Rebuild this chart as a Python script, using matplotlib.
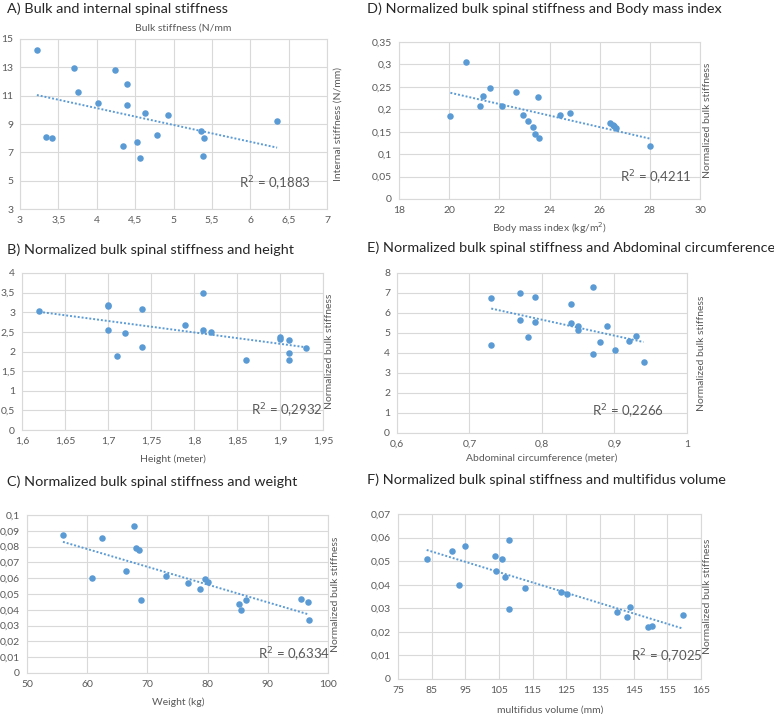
import matplotlib.pyplot as plt
import numpy as np
from matplotlib.ticker import FuncFormatter

plt.rcParams['font.family'] = ['Lato', 'DejaVu Sans']

# A) bulk vs internal stiffness
bulk_a = [3.22, 3.70, 4.24, 4.40, 3.76, 4.01, 4.39, 4.63, 4.93, 6.35,
          3.34, 3.42, 5.36, 5.40, 4.78, 4.34, 4.52, 4.57, 5.39]
internal_a = [14.25, 12.93, 12.81, 11.82, 11.28, 10.48, 10.36, 9.78, 9.66, 9.19,
              8.08, 7.99, 8.51, 7.99, 8.22, 7.47, 7.75, 6.60, 6.72]

# D) BMI
bmi_d = [20.67, 20.05, 21.63, 21.34, 21.23, 22.09, 22.66, 23.53, 22.96, 23.13,
         23.36, 23.42, 23.58, 24.41, 24.82, 26.43, 26.52, 26.58, 26.64, 27.99]
stiff_d = [0.306, 0.185, 0.247, 0.230, 0.207, 0.207, 0.238, 0.228, 0.188, 0.174,
           0.161, 0.146, 0.137, 0.188, 0.192, 0.170, 0.166, 0.162, 0.159, 0.119]

# B) height
height_b = [1.62, 1.70, 1.70, 1.70, 1.71, 1.72, 1.74, 1.74, 1.79, 1.81,
            1.81, 1.82, 1.86, 1.90, 1.90, 1.91, 1.91, 1.91, 1.93]
stiff_b = [3.04, 3.15, 3.18, 2.56, 1.89, 2.46, 3.08, 2.12, 2.67, 3.50,
           2.56, 2.50, 1.79, 2.37, 2.31, 2.29, 1.97, 1.79, 2.08]

# E) abdominal circumference
abdo_e = [0.73, 0.73, 0.77, 0.77, 0.79, 0.79, 0.78, 0.84, 0.84, 0.85,
          0.85, 0.87, 0.87, 0.88, 0.89, 0.90, 0.92, 0.93, 0.94]
stiff_e = [6.76, 4.40, 7.01, 5.64, 6.80, 5.56, 4.79, 6.43, 5.52, 5.36,
           5.15, 7.30, 3.95, 4.57, 5.36, 4.15, 4.60, 4.85, 3.53]

# C) weight
weight_c = [55.97, 60.77, 62.54, 66.41, 67.79, 68.12, 68.62, 69.0, 73.15, 76.74,
            78.78, 79.50, 80.06, 85.19, 85.47, 86.30, 95.47, 96.69, 96.80]
stiff_c = [0.0874, 0.0604, 0.0853, 0.0647, 0.0932, 0.0791, 0.0781, 0.0464, 0.0617, 0.0570,
           0.0532, 0.0596, 0.0574, 0.0436, 0.0396, 0.0460, 0.0470, 0.0449, 0.0338]

# F) multifidus volume
volume_f = [83.52, 91.15, 93.24, 94.92, 103.84, 104.14, 106.02, 106.71, 108.10, 108.10,
            112.66, 123.37, 125.05, 140.12, 143.09, 143.88, 149.34, 150.33, 159.64]
stiff_f = [0.0509, 0.0544, 0.0400, 0.0565, 0.0520, 0.0459, 0.0509, 0.0431, 0.0591, 0.0298,
           0.0385, 0.0368, 0.0360, 0.0285, 0.0261, 0.0305, 0.0220, 0.0224, 0.0273]

W, H = 774, 714
blue = '#5B9BD5'
grey_txt = '#595959'
grid_c = '#D9D9D9'

fig = plt.figure(figsize=(W / 100, H / 100), dpi=100)


def fx(px):
    return px / W


def fy(py):
    return 1 - py / H


def comma(v, pos):
    return '{:g}'.format(round(v, 6)).replace('.', ',')


def panel(box, x, y, xt, yt, title, tpos, xlab, xlpos, ylab, ylx, r2, r2pos):
    l, r, t, b = box
    ax = fig.add_axes([fx(l), fy(b), fx(r - l), (b - t) / H])
    ax.scatter(x, y, s=22, color=blue, zorder=3, linewidths=0)
    k, c = np.polyfit(x, y, 1)
    xx = np.array([min(x), max(x)])
    ax.plot(xx, k * xx + c, ls=(0, (1, 1)), color=blue, lw=1.4, zorder=2)
    ax.set_xlim(xt[0], xt[-1])
    ax.set_ylim(yt[0], yt[-1])
    ax.set_xticks(xt)
    ax.set_yticks(yt)
    ax.xaxis.set_major_formatter(FuncFormatter(comma))
    ax.yaxis.set_major_formatter(FuncFormatter(comma))
    ax.tick_params(length=0, labelsize=7.5, colors=grey_txt, pad=5)
    ax.grid(True, color=grid_c, lw=0.8)
    ax.set_axisbelow(True)
    for s in ax.spines.values():
        s.set_color(grid_c)
        s.set_linewidth(0.8)
    fig.text(fx(tpos[0]), fy(tpos[1]), title, fontsize=10.4, color='#262626',
             ha='left', va='center')
    fig.text(fx(xlpos[0]), fy(xlpos[1]), xlab, fontsize=7.5, color=grey_txt,
             ha='center', va='center')
    fig.text(fx(ylx), fy((t + b) / 2), ylab, fontsize=7.5, color=grey_txt,
             ha='center', va='center', rotation=90)
    fig.text(fx(r2pos[0]), fy(r2pos[1]), 'R$^2$ = ' + r2, fontsize=9.5,
             color=grey_txt, ha='left', va='center')
    return ax


panel((20, 327, 39, 209), bulk_a, internal_a,
      np.arange(3, 7.01, 0.5), np.arange(3, 15.1, 2),
      'A) Bulk and internal spinal stiffness', (7, 9),
      'Bulk stiffness (N/mm', (183, 28), 'Internal stiffness (N/mm)', 338,
      '0,1883', (239, 184))

panel((399, 700, 42, 199), bmi_d, stiff_d,
      np.arange(18, 30.1, 2), np.arange(0, 0.351, 0.05),
      'D) Normalized bulk spinal stiffness and Body mass index', (367, 9),
      'Body mass index (kg/m$^2$)', (550, 228), 'Normalized bulk stiffness', 708,
      '0,4211', (620, 178))

panel((22, 323, 273, 430), height_b, stiff_b,
      np.arange(1.6, 1.951, 0.05), np.arange(0, 4.01, 0.5),
      'B) Normalized bulk spinal stiffness and height', (7, 250),
      'Height (meter)', (173, 459), 'Normalized bulk stiffness', 330,
      '0,2932', (251, 411))

panel((397, 687, 273, 433), abdo_e, stiff_e,
      np.arange(0.6, 1.001, 0.1), np.arange(0, 8.1, 1),
      'E) Normalized bulk spinal stiffness and Abdominal circumference', (367, 248),
      'Abdominal circumference (meter)', (542, 458), 'Normalized bulk stiffness', 702,
      '0,2266', (592, 412))

panel((27, 328, 515, 673), weight_c, stiff_c,
      np.arange(50, 100.1, 10), np.arange(0, 0.1001, 0.01),
      'C) Normalized bulk spinal stiffness and weight', (7, 482),
      'Weight (kg)', (178, 702), 'Normalized bulk stiffness', 336,
      '0,6334', (258, 655))

panel((398, 701, 514, 679), volume_f, stiff_f,
      np.arange(75, 165.1, 10), np.arange(0, 0.0701, 0.01),
      'F) Normalized bulk spinal stiffness and multifidus volume', (367, 480),
      'multifidus volume (mm)', (550, 710), 'Normalized bulk stiffness', 708,
      '0,7025', (631, 657))

fig.savefig('out.png', dpi=100)
